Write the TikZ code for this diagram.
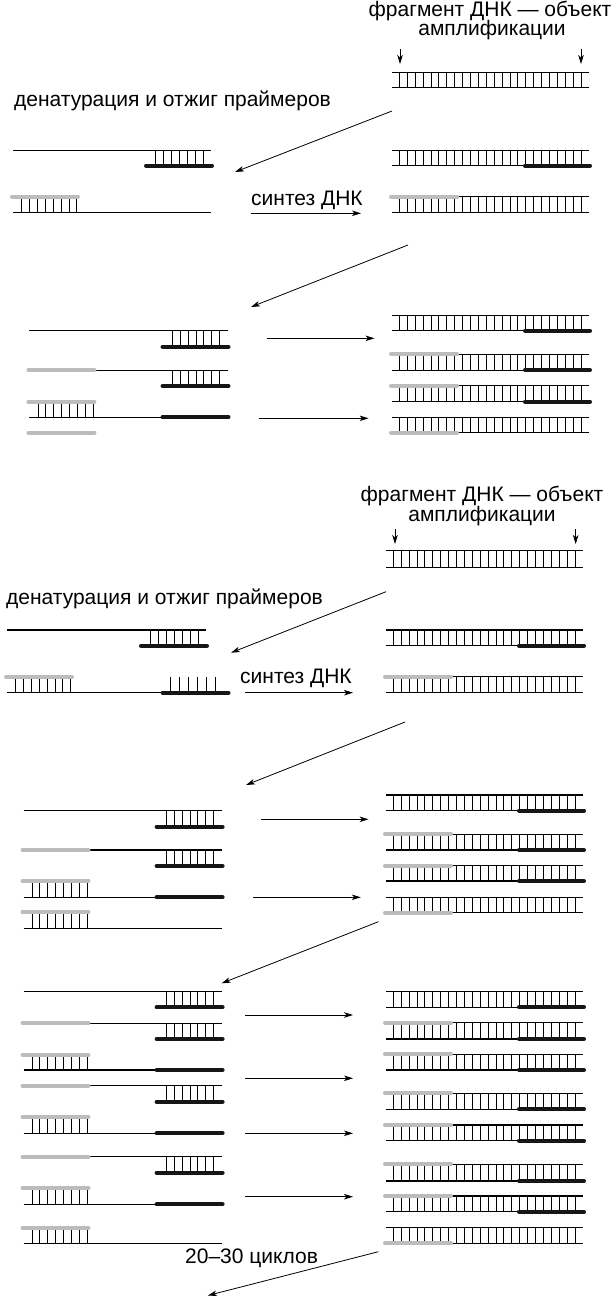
\documentclass[tikz,border=0pt]{standalone}
\usepackage{fontspec}
\setmainfont{Liberation Sans}
\usetikzlibrary{arrows.meta}
\definecolor{pgrey}{RGB}{188,188,190}
\definecolor{pblack}{RGB}{22,22,22}
\tikzset{
 strand/.style={line width=0.9pt, black},
 rung/.style={line width=0.8pt, black},
 bprim/.style={line width=4pt, pblack, line cap=round},
 gprim/.style={line width=4pt, pgrey, line cap=round},
 arr/.style={line width=0.8pt, -{Stealth[length=9pt,width=5.5pt,inset=2.5pt]}},
 lbl/.style={inner sep=0pt, font=\fontsize{21}{19.5}\selectfont},
}
\def\xo{0}
% right ladders
\newcommand\rr[2]{\foreach \i in {0,...,23}{\draw[rung] ({\xo+399.3+\i*7.9},#1) -- ({\xo+399.3+\i*7.9},#2);}}
\newcommand\rT[2]{\rr{#1}{#2}\draw[strand] ({\xo+392},#1) -- ({\xo+589},#1) ({\xo+392},#2) -- ({\xo+589},#2);}
\newcommand\rB[2]{\rr{#1}{#2}\draw[strand] ({\xo+392},#1) -- ({\xo+589},#1) ({\xo+392},#2) -- ({\xo+525},#2);\draw[bprim] ({\xo+525},#2) -- ({\xo+590},#2);}
\newcommand\rG[2]{\rr{#1}{#2}\draw[strand] ({\xo+457},#1) -- ({\xo+589},#1) ({\xo+392},#2) -- ({\xo+589},#2);\draw[gprim] ({\xo+391},#1) -- ({\xo+457},#1);}
\newcommand\rGB[2]{\rr{#1}{#2}\draw[strand] ({\xo+457},#1) -- ({\xo+589},#1) ({\xo+392},#2) -- ({\xo+525},#2);\draw[gprim] ({\xo+391},#1) -- ({\xo+457},#1);\draw[bprim] ({\xo+525},#2) -- ({\xo+590},#2);}
\newcommand\rGd[2]{\rr{#1}{#2}\draw[strand] ({\xo+392},#1) -- ({\xo+589},#1) ({\xo+457},#2) -- ({\xo+589},#2);\draw[gprim] ({\xo+391},#2) -- ({\xo+457},#2);}
% left rows
\newcommand\brr[3]{\foreach \i in {0,...,6}{\draw[rung] ({#1-55.3+\i*7.9},#2) -- ({#1-55.3+\i*7.9},#3);}}
\newcommand\grr[3]{\foreach \i in {0,...,7}{\draw[rung] ({#1+8.5+\i*7.9},#2) -- ({#1+8.5+\i*7.9},#3);}}
\newcommand\lA[4]{\brr{#2}{#3}{#4}\draw[strand] (#1,#3) -- (#2,#3);\draw[bprim] ({#2-65},#4) -- ({#2+1},#4);}
\newcommand\lB[4]{\brr{#2}{#3}{#4}\draw[strand] ({#1+65},#3) -- (#2,#3);\draw[gprim] ({#1-1},#3) -- ({#1+65},#3);\draw[bprim] ({#2-65},#4) -- ({#2+1},#4);}
\newcommand\lC[4]{\grr{#1}{#3}{#4}\draw[strand] (#1,#4) -- ({#2-65},#4);\draw[gprim] ({#1-1},#3) -- ({#1+65},#3);\draw[bprim] ({#2-65},#4) -- ({#2+1},#4);}
\newcommand\lD[4]{\grr{#1}{#3}{#4}\draw[strand] (#1,#4) -- (#2,#4);\draw[gprim] ({#1-1},#3) -- ({#1+65},#3);}
\newcommand\lG[2]{\draw[gprim] ({#1-1},#2) -- ({#1+65},#2);}
\begin{document}
\begin{tikzpicture}[x=1pt,y=-1pt]
\useasboundingbox (0,0) rectangle (614,1298);
% ================= top panel =================
\node[lbl, anchor=base] (t1) at (490,16.7) {фрагмент ДНК — объект};
\node[lbl, anchor=base] (t2) at (492,36) {амплификации};
\node[lbl, anchor=base west] (t3) at (14,106) {денатурация и отжиг праймеров};
\node[lbl, anchor=base west] (t4) at (251,205) {синтез ДНК};
\coordinate (d1s) at (400,49); \coordinate (d1e) at (400,64);
\coordinate (d2s) at (581,49); \coordinate (d2e) at (581,64);
\draw[arr] (d1s) -- (d1e);
\draw[arr] (d2s) -- (d2e);
\rT{72}{87}
\coordinate (a1s) at (392,111); \coordinate (a1e) at (235,172);
\draw[arr] (a1s) -- (a1e);
\lA{13}{211}{150}{165.7}
\lD{13}{211}{196.7}{212.3}
\rB{150}{165.7}
\rG{196.7}{212.3}
\coordinate (s1s) at (251,213.3); \coordinate (s1e) at (361,213.3);
\draw[arr] (s1s) -- (s1e);
\coordinate (a2s) at (408,245); \coordinate (a2e) at (251,307);
\draw[arr] (a2s) -- (a2e);
\lA{29.4}{227.5}{330.7}{346.7}
\lB{29.4}{227.5}{370}{386}
\lC{29.4}{227.5}{401.7}{417.3}
\lG{29.4}{432.7}
\rB{315}{330.7}
\rGB{354}{370}
\rGB{385.7}{401.7}
\rGd{417.3}{432.7}
\coordinate (h1s) at (266.7,338.3); \coordinate (h1e) at (374.5,338.3);
\coordinate (h2s) at (258.8,418.3); \coordinate (h2e) at (368.6,418.3);
\draw[arr] (h1s) -- (h1e);
\draw[arr] (h2s) -- (h2e);
% ================= bottom panel =================
\begin{scope}
\tikzset{strand/.style={line width=1.4pt, black}, rung/.style={line width=1pt, black}}
\def\xo{-6}
\node[lbl, anchor=base] (b1) at (482,501.7) {фрагмент ДНК — объект};
\node[lbl, anchor=base] (b2) at (482,521.7) {амплификации};
\node[lbl, anchor=base west] (b3) at (6,604) {денатурация и отжиг праймеров};
\node[lbl, anchor=base west] (b4) at (240,683.3) {синтез ДНК};
\node[lbl, anchor=base west] (b5) at (185,1263.3) {20–30 циклов};
\coordinate (e1s) at (395,529); \coordinate (e1e) at (395,544);
\coordinate (e2s) at (575.7,529); \coordinate (e2e) at (575.7,544);
\draw[arr] (e1s) -- (e1e);
\draw[arr] (e2s) -- (e2e);
\rT{550.7}{567.3}
\coordinate (c1s) at (386,591.7); \coordinate (c1e) at (231,652.7);
\draw[arr] (c1s) -- (c1e);
% stage 1
\lA{7}{206}{630}{645.7}
\lD{7}{227.5}{676.7}{692.7}
\foreach \i in {0,...,5}{\draw[rung] ({170.6+\i*9},677) -- ({170.6+\i*9},692.7);}
\draw[bprim] (162.7,692.7) -- (228.5,692.7);
\rB{630}{645.7}
\rG{676.7}{692.7}
\coordinate (s2s) at (245,692.7); \coordinate (s2e) at (353,692.7);
\draw[arr] (s2s) -- (s2e);
\coordinate (c2s) at (405,722); \coordinate (c2e) at (246,785);
\draw[arr] (c2s) -- (c2e);
% stage 2
\lA{23.5}{221.6}{810.7}{826.7}
\lB{23.5}{221.6}{850}{866}
\lC{23.5}{221.6}{880.7}{897.3}
\lD{23.5}{221.6}{912.3}{928.3}
\rB{795}{810.7}
\rGB{834.3}{850}
\rGB{865.7}{881}
\rGd{897.3}{912.7}
\coordinate (k1s) at (260.8,819.3); \coordinate (k1e) at (368.6,819.3);
\coordinate (k2s) at (253,897.3); \coordinate (k2e) at (360.8,897.3);
\draw[arr] (k1s) -- (k1e);
\draw[arr] (k2s) -- (k2e);
\coordinate (c3s) at (378.4,921.7); \coordinate (c3e) at (221.6,983.3);
\draw[arr] (c3s) -- (c3e);
% stage 3
\lA{23.5}{221.6}{991.7}{1007.3}
\lB{23.5}{221.6}{1023.3}{1039}
\lC{23.5}{221.6}{1055}{1070}
\lB{23.5}{221.6}{1085.7}{1101.7}
\lC{23.5}{221.6}{1116.7}{1133.3}
\lB{23.5}{221.6}{1156.7}{1172.7}
\lC{23.5}{221.6}{1188.3}{1204.3}
\lD{23.5}{221.6}{1227.7}{1243.3}
\rB{991.7}{1007.3}
\rGB{1022.7}{1039}
\rGB{1054.3}{1070}
\rGB{1093.3}{1109.3}
\rGB{1125}{1140.7}
\rGB{1164.3}{1181}
\rGB{1196}{1211.7}
\rGd{1227.7}{1243.3}
\coordinate (m1s) at (245,1015); \coordinate (m1e) at (353,1015);
\coordinate (m2s) at (245,1078.3); \coordinate (m2e) at (353,1078.3);
\coordinate (m3s) at (245,1133.3); \coordinate (m3e) at (353,1133.3);
\coordinate (m4s) at (245,1196.7); \coordinate (m4e) at (353,1196.7);
\draw[arr] (m1s) -- (m1e);
\draw[arr] (m2s) -- (m2e);
\draw[arr] (m3s) -- (m3e);
\draw[arr] (m4s) -- (m4e);
\coordinate (fs) at (378.4,1251.7); \coordinate (fe) at (207.8,1295.5);
\draw[arr] (fs) -- (fe);
\end{scope}
\end{tikzpicture}
\end{document}
